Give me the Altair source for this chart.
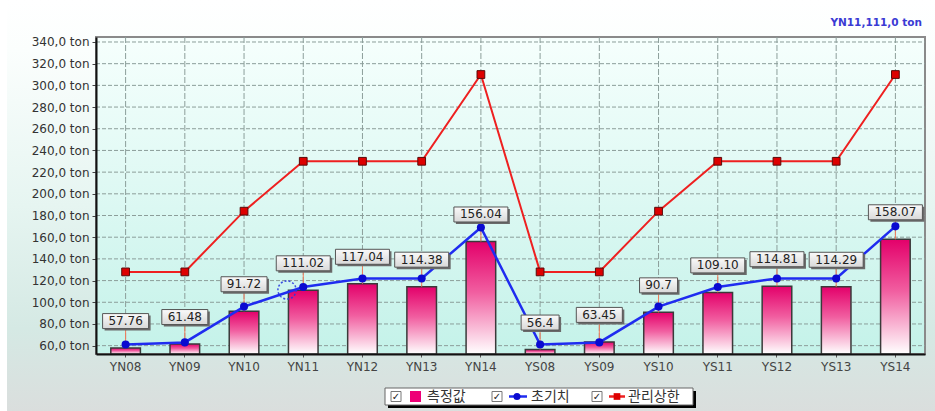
import altair as alt
import pandas as pd

categories = ["YN08", "YN09", "YN10", "YN11", "YN12", "YN13", "YN14",
              "YS08", "YS09", "YS10", "YS11", "YS12", "YS13", "YS14"]
measured = [57.76, 61.48, 91.72, 111.02, 117.04, 114.38, 156.04,
            56.4, 63.45, 90.7, 109.10, 114.81, 114.29, 158.07]
measured_labels = ["57.76", "61.48", "91.72", "111.02", "117.04", "114.38", "156.04",
                   "56.4", "63.45", "90.7", "109.10", "114.81", "114.29", "158.07"]
initial = [61, 63, 96, 114, 122, 122, 169, 61, 63, 96, 114, 122, 122, 170]
upper = [128, 128, 184, 230, 230, 230, 310, 128, 128, 184, 230, 230, 230, 310]
y_ticks = [60, 80, 100, 120, 140, 160, 180, 200, 220, 240, 260, 280, 300, 320, 340]
legend_names = ["측정값", "초기치", "관리상한"]
hover_text = "YN11,111,0 ton"

Y_MIN, Y_MAX = 52.3, 344.6
W, H = 829, 317

df = pd.DataFrame({
    "cat": categories,
    "measured": measured,
    "label": measured_labels,
    "initial": initial,
    "upper": upper,
})
df["llen"] = df["label"].str.len().astype(str)
df["base"] = Y_MIN

xs = alt.X("cat:N", sort=categories, scale=alt.Scale(paddingInner=0, paddingOuter=0),
           axis=alt.Axis(title=None, labelAngle=0, labelFontSize=12, labelColor="#444",
                         labelFont="DejaVu Sans", domainColor="#111", domainWidth=2,
                         tickColor="#555", tickSize=3, labelPadding=4, grid=False,
                         bandPosition=0.5, zindex=1, labelOverlap=False))
yscale = alt.Scale(domain=[Y_MIN, Y_MAX], zero=False, nice=False)
yaxis = alt.Axis(title=None, values=y_ticks, labelFontSize=12, labelColor="#333",
                 labelFont="DejaVu Sans", domainColor="#111", domainWidth=2,
                 tickColor="#444", tickSize=4, labelPadding=3, grid=False,
                 labelOverlap=False, tickCount=15,
                 labelExpr="replace(format(datum.value, '.1f'), '.', ',') + ' ton'",
                 zindex=1)

def Y(field):
    return alt.Y(field, scale=yscale, axis=yaxis, title=None)

one = alt.Chart(pd.DataFrame({"a": [0]}))

def grad(stops):
    return alt.LinearGradient(gradient="linear", x1=0, x2=0, y1=0, y2=1,
                              stops=[alt.GradientStop(color=c, offset=o) for o, c in stops])

outer_bg = one.mark_rect(fill=grad([(0, "#ffffff"), (0.12, "#fbfefd"), (0.5, "#e6f5f1"),
                                    (0.8, "#d5e9e4"), (1, "#dadedd")])).encode(
    x=alt.value(-89), x2=alt.value(W + 10), y=alt.value(-37), y2=alt.value(H + 57))
plot_bg = one.mark_rect(fill=grad([(0, "#f6fffd"), (1, "#c4f2e9")]),
                        stroke="#8a8a8a", strokeWidth=2).encode(
    x=alt.value(0), x2=alt.value(W), y=alt.value(0), y2=alt.value(H))

hgrid = alt.Chart(pd.DataFrame({"v": y_ticks})).mark_rule(
    color="#8c9e9a", strokeWidth=1, strokeDash=[4, 2]).encode(
    y=Y("v:Q"), x=alt.value(0), x2=alt.value(W))
vgrid = alt.Chart(df).mark_rule(color="#8c9e9a", strokeWidth=1, strokeDash=[6, 2]).encode(
    x=xs, y=alt.value(0), y2=alt.value(H))

bars = alt.Chart(df).mark_bar(
    width=alt.RelativeBandSize(0.5),
    fill=grad([(0, "#e3006a"), (0.45, "#f15ea0"), (1, "#ffffff")]),
    stroke="#3a3a3a", strokeWidth=1.5).encode(
    x=xs, y=Y("measured:Q"), y2=alt.Y2("base:Q"))

stems = alt.Chart(df).mark_rule(color="#f27a5a", strokeWidth=1, y2Offset=-20).encode(
    x=xs, y=Y("measured:Q"), y2="measured:Q")

red_line = alt.Chart(df).mark_line(color="#ee2020", strokeWidth=2).encode(
    x=xs, y=Y("upper:Q"))
red_pts = alt.Chart(df).mark_point(shape="square", filled=True, size=60, fill="#dd0000",
                                   stroke="#5a0a0a", strokeWidth=1, opacity=1).encode(
    x=xs, y=Y("upper:Q"))

blue_line = alt.Chart(df).mark_line(color="#1f2cf0", strokeWidth=2.5).encode(
    x=xs, y=Y("initial:Q"))
blue_pts = alt.Chart(df).mark_point(shape="circle", filled=True, size=65, fill="#0a0ad0",
                                    opacity=1).encode(
    x=xs, y=Y("initial:Q"))

box_paths = ["M-0.633,-0.25L0.633,-0.25L0.633,0.25L-0.633,0.25Z",
             "M-0.767,-0.25L0.767,-0.25L0.767,0.25L-0.767,0.25Z",
             "M-0.9,-0.25L0.9,-0.25L0.9,0.25L-0.9,0.25Z"]
shape_enc = alt.Shape("llen:N", scale=alt.Scale(domain=["4", "5", "6"], range=box_paths),
                      legend=None)
box_shadow = alt.Chart(df).mark_point(filled=True, size=3600, fill="#6a6a6a", opacity=1,
                                      xOffset=2, yOffset=-25).encode(
    x=xs, y=Y("measured:Q"), shape=shape_enc)
boxes = alt.Chart(df).mark_point(filled=True, size=3600,
                                 fill=grad([(0, "#fafafa"), (1, "#d8d8d8")]),
                                 stroke="#555", strokeWidth=1, opacity=1,
                                 yOffset=-27).encode(
    x=xs, y=Y("measured:Q"), shape=shape_enc)
box_text = alt.Chart(df).mark_text(dy=-27, fontSize=12, font="DejaVu Sans", color="#222",
                                   baseline="middle", align="center").encode(
    x=xs, y=Y("measured:Q"), text="label:N")

cursor = one.mark_point(shape="circle", size=330, color="#2a3ae0", strokeWidth=1.5,
                        strokeDash=[2, 2], opacity=0.9).encode(
    x=alt.value(191), y=alt.value(253))

hover = one.mark_text(text=hover_text, fontSize=10.5, fontWeight="bold", font="DejaVu Sans",
                      color="#3a3ad4", align="right", baseline="middle").encode(
    x=alt.value(826), y=alt.value(-14))

# legend
leg_shadow = one.mark_rect(fill="#000000").encode(
    x=alt.value(292), x2=alt.value(600), y=alt.value(354), y2=alt.value(371))
leg_box = one.mark_rect(fill="#ffffff", stroke="#666", strokeWidth=1).encode(
    x=alt.value(289), x2=alt.value(597), y=alt.value(351), y2=alt.value(368))
leg_layers = [leg_shadow, leg_box]
for cx in [300, 401, 501]:
    leg_layers.append(one.mark_point(shape="square", size=100, filled=True, fill="#ffffff",
                                     stroke="#777", strokeWidth=1, opacity=1).encode(
        x=alt.value(cx), y=alt.value(359.5)))
    leg_layers.append(one.mark_text(text="✓", fontSize=10, font="DejaVu Sans", color="#222",
                                    baseline="middle", align="center").encode(
        x=alt.value(cx), y=alt.value(359.5)))
leg_layers.append(one.mark_point(shape="square", size=121, filled=True, fill="#ee0077",
                                 opacity=1).encode(x=alt.value(319.5), y=alt.value(359.5)))
leg_layers.append(one.mark_rule(color="#1f2cf0", strokeWidth=2.5).encode(
    x=alt.value(413), x2=alt.value(431), y=alt.value(359.5)))
leg_layers.append(one.mark_point(shape="circle", size=50, filled=True, fill="#0a0ad0",
                                 opacity=1).encode(x=alt.value(421), y=alt.value(359.5)))
leg_layers.append(one.mark_rule(color="#ee2020", strokeWidth=2.5).encode(
    x=alt.value(513), x2=alt.value(529), y=alt.value(359.5)))
leg_layers.append(one.mark_point(shape="square", size=45, filled=True, fill="#dd0000",
                                 opacity=1).encode(x=alt.value(521), y=alt.value(359.5)))
for tx, name in zip([331, 435, 532], legend_names):
    leg_layers.append(one.mark_text(text=name, fontSize=14, font="Noto Sans CJK KR",
                                    color="#333", align="left", baseline="middle").encode(
        x=alt.value(tx), y=alt.value(360)))

chart = alt.layer(outer_bg, plot_bg, hgrid, vgrid, bars, stems, red_line, red_pts,
                  blue_line, blue_pts, box_shadow, boxes, box_text, cursor, hover,
                  *leg_layers).properties(
    width=W, height=H,
    autosize=alt.AutoSizeParams(type="none"),
    padding={"left": 96, "top": 37, "right": 10, "bottom": 57},
    background="#ffffff",
).configure_view(stroke=None)

chart.save("out.html", embed_options={"renderer": "svg", "actions": False})
